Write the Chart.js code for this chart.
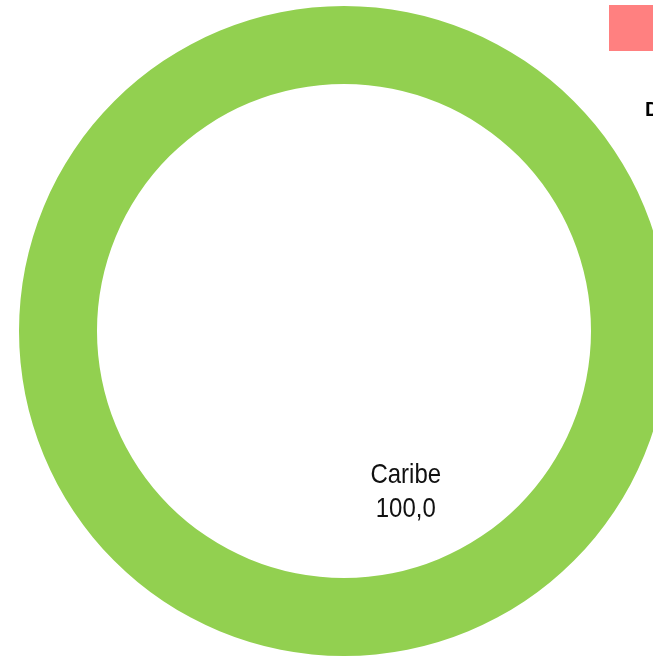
<!DOCTYPE html>
<html><head><meta charset="utf-8">
<script src="https://cdn.jsdelivr.net/npm/chart.js@4/dist/chart.umd.min.js"></script>
<style>
html,body{margin:0;padding:0;width:653px;height:657px;overflow:hidden;background:#fff;}
#wrap{position:absolute;left:19px;top:6px;width:650px;height:650px;}
#sw{position:absolute;left:609px;top:5px;width:60px;height:46px;background:#FF8080;}
#lg{position:absolute;left:645px;top:98px;font:bold 20px "Liberation Sans",Arial,sans-serif;color:#000;white-space:nowrap;}
</style></head><body>
<div id="wrap"><canvas id="c" width="650" height="650"></canvas></div>
<div id="sw"></div>
<div id="lg">D</div>
<script>
const categories = ["Caribe"];
const values = [100.0];
const colors = ["#92D050"];

const labelPlugin = {
  id: 'lbl',
  afterDatasetsDraw(chart) {
    const ctx = chart.ctx;
    const arc = chart.getDatasetMeta(0).data[0];
    const r = arc.outerRadius;
    const x = arc.x + 0.19 * r;
    const y = arc.y + 0.445 * r;
    ctx.save();
    ctx.fillStyle = '#111';
    ctx.font = '24px "Liberation Sans", Arial, sans-serif';
    ctx.textAlign = 'center';
    ctx.textBaseline = 'middle';
    ctx.translate(x, y);
    ctx.scale(1, 1.12);
    ctx.fillText(categories[0], 0, 0);
    ctx.fillText(values[0].toFixed(1).replace('.', ','), 0, 30);
    ctx.restore();
  }
};

new Chart(document.getElementById('c'), {
  type: 'doughnut',
  data: { labels: categories, datasets: [{ data: values, backgroundColor: colors, borderWidth: 0 }] },
  options: {
    responsive: false, animation: false, cutout: '76%',
    layout: { padding: 0 },
    plugins: { legend: { display: false }, tooltip: { enabled: false } }
  },
  plugins: [labelPlugin]
});
</script>
</body></html>
